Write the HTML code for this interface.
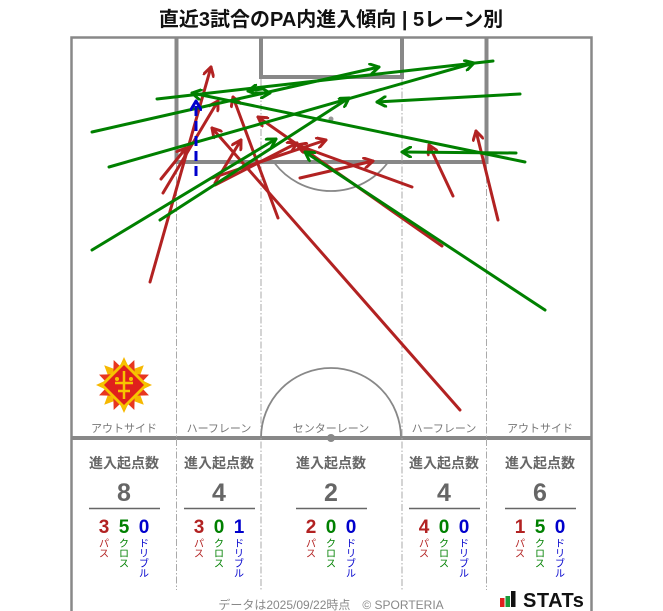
<!DOCTYPE html>
<html><head><meta charset="utf-8"><style>
html,body{margin:0;padding:0;background:#fff;}
svg{display:block;}
text{font-family:"Liberation Sans","Noto Sans CJK JP",sans-serif;}
</style></head><body>
<svg width="663" height="611" viewBox="0 0 663 611" xmlns="http://www.w3.org/2000/svg">
<defs>
<marker id="mr" viewBox="0 0 12 12" refX="10" refY="6" markerWidth="12" markerHeight="12" markerUnits="userSpaceOnUse" orient="auto"><path d="M1.5,1 L10,6 L1.5,11" fill="none" stroke="#b22222" stroke-width="3" stroke-linecap="round" stroke-linejoin="round"/></marker>
<marker id="mg" viewBox="0 0 12 12" refX="10" refY="6" markerWidth="12" markerHeight="12" markerUnits="userSpaceOnUse" orient="auto"><path d="M1.5,1 L10,6 L1.5,11" fill="none" stroke="#008000" stroke-width="3" stroke-linecap="round" stroke-linejoin="round"/></marker>
<marker id="mb" viewBox="0 0 12 12" refX="10" refY="6" markerWidth="12" markerHeight="12" markerUnits="userSpaceOnUse" orient="auto"><path d="M1.5,1 L10,6 L1.5,11" fill="none" stroke="#0000cc" stroke-width="3" stroke-linecap="round" stroke-linejoin="round"/></marker>
</defs>

<text x="331" y="26" text-anchor="middle" font-size="20" font-weight="bold" fill="#111">直近3試合のPA内進入傾向 | 5レーン別</text>

<!-- pitch -->
<g fill="none" stroke="#888">
<path d="M71.5,611 V37.5 H591.5 V611" stroke-width="2.5"/>
<line x1="71" y1="438" x2="592" y2="438" stroke-width="4"/>
<path d="M176.5,37 V162 H486.5 V37" stroke-width="4"/>
<path d="M261,37 V77 H402 V37" stroke-width="4"/>
</g>
<g stroke="#aaa" stroke-width="1" stroke-dasharray="7,2,1.5,2" fill="none">
<line x1="176.5" y1="164" x2="176.5" y2="590"/>
<line x1="261" y1="79" x2="261" y2="590"/>
<line x1="402" y1="79" x2="402" y2="590"/>
<line x1="486.5" y1="164" x2="486.5" y2="590"/>
</g>
<path d="M274.5,163 A71,71 0 0 0 387.5,163" fill="none" stroke="#888" stroke-width="1.8"/>
<circle cx="331" cy="119" r="2.5" fill="#999"/>
<path d="M261,438 A70,70 0 0 1 401,438" fill="none" stroke="#888" stroke-width="1.8"/>
<circle cx="331" cy="438" r="4" fill="#888"/>

<!-- emblem -->
<g transform="translate(124,385)">
<polygon fill="#f6b800" points="0,-28 6.1,-14.8 19.8,-19.8 14.8,-6.1 28,0 14.8,6.1 19.8,19.8 6.1,14.8 0,28 -6.1,14.8 -19.8,19.8 -14.8,6.1 -28,0 -14.8,-6.1 -19.8,-19.8 -6.1,-14.8"/>
<polygon fill="#e8361f" transform="rotate(22.5)" points="0,-27 5.8,-14 19.1,-19.1 14,-5.8 27,0 14,5.8 19.1,19.1 5.8,14 0,27 -5.8,14 -19.1,19.1 -14,5.8 -27,0 -14,-5.8 -19.1,-19.1 -5.8,-14"/>
<polygon fill="#f7c400" points="0,-24 24,0 0,24 -24,0"/>
<polygon fill="#e0201c" points="0,-20 20,0 0,20 -20,0"/>
<path d="M0,-14 V14 M-9,-2 H9 M-6,6 H6" stroke="#f7c400" stroke-width="2.5"/>
<circle cx="-7" cy="-6" r="2" fill="#f7c400"/><circle cx="7" cy="-6" r="2" fill="#f7c400"/>
</g>

<!-- lane labels -->
<g font-size="11" fill="#777" text-anchor="middle">
<text x="124" y="432">アウトサイド</text>
<text x="219" y="432">ハーフレーン</text>
<text x="331" y="432">センターレーン</text>
<text x="444" y="432">ハーフレーン</text>
<text x="540" y="432">アウトサイド</text>
</g>

<!-- arrows red -->
<g stroke="#b22222" stroke-width="3" fill="none" stroke-linecap="round" marker-end="url(#mr)">
<path d="M150,282 L211,67"/>
<path d="M161,179 L186,148"/>
<path d="M163,193 L218,101"/>
<path d="M460,410 L212,128"/>
<path d="M278,218 L233,97"/>
<path d="M215,183 L241,140"/>
<path d="M442,246 L258,117"/>
<path d="M215,185 L297,143"/>
<path d="M412,187 L297,145"/>
<path d="M212,178 L326,140"/>
<path d="M498,220 L476,131"/>
<path d="M453,196 L429,145"/>
<path d="M300,178 L373,161"/>
</g>
<!-- arrows green -->
<g stroke="#008000" stroke-width="3" fill="none" stroke-linecap="round">
<path d="M157,99 L493,61"/>
<g marker-end="url(#mg)">
<path d="M92,132 L379,67"/>
<path d="M109,167 L474,63"/>
<path d="M525,162 L192,93"/>
<path d="M520,94 L377,102"/>
<path d="M516,153 L402,152"/>
<path d="M545,310 L305,152"/>
<path d="M92,250 L276,139"/>
<path d="M160,220 L349,98"/>
<path d="M262,89 L248,91"/>
<path d="M256,93 L270,93"/>
</g>
</g>
<!-- dribble -->
<path d="M196,176 L196,101" stroke="#0000cc" stroke-width="3" fill="none" stroke-dasharray="10,5" marker-end="url(#mb)"/>

<!-- stats -->
<g text-anchor="middle">
<g font-size="14" font-weight="bold" fill="#666">
<text x="124" y="468">進入起点数</text>
<text x="219" y="468">進入起点数</text>
<text x="331" y="468">進入起点数</text>
<text x="444" y="468">進入起点数</text>
<text x="540" y="468">進入起点数</text>
</g>
<g font-size="25" font-weight="bold" fill="#666">
<text x="124" y="501">8</text>
<text x="219" y="501">4</text>
<text x="331" y="501">2</text>
<text x="444" y="501">4</text>
<text x="540" y="501">6</text>
</g>
<g stroke="#666" stroke-width="1.5">
<line x1="89" y1="508.5" x2="160" y2="508.5"/>
<line x1="184" y1="508.5" x2="255" y2="508.5"/>
<line x1="296" y1="508.5" x2="367" y2="508.5"/>
<line x1="409" y1="508.5" x2="480" y2="508.5"/>
<line x1="505" y1="508.5" x2="576" y2="508.5"/>
</g>
<g font-size="19" font-weight="bold">
<text x="104" y="533" fill="#b22222">3</text><text x="124" y="533" fill="#008000">5</text><text x="144" y="533" fill="#0000cc">0</text>
<text x="199" y="533" fill="#b22222">3</text><text x="219" y="533" fill="#008000">0</text><text x="239" y="533" fill="#0000cc">1</text>
<text x="311" y="533" fill="#b22222">2</text><text x="331" y="533" fill="#008000">0</text><text x="351" y="533" fill="#0000cc">0</text>
<text x="424" y="533" fill="#b22222">4</text><text x="444" y="533" fill="#008000">0</text><text x="464" y="533" fill="#0000cc">0</text>
<text x="520" y="533" fill="#b22222">1</text><text x="540" y="533" fill="#008000">5</text><text x="560" y="533" fill="#0000cc">0</text>
</g>
<g font-size="10">
<g fill="#b22222">
<text x="104" y="547">パ</text><text x="104" y="557">ス</text>
<text x="199" y="547">パ</text><text x="199" y="557">ス</text>
<text x="311" y="547">パ</text><text x="311" y="557">ス</text>
<text x="424" y="547">パ</text><text x="424" y="557">ス</text>
<text x="520" y="547">パ</text><text x="520" y="557">ス</text>
</g>
<g fill="#008000">
<text x="124" y="547">ク</text><text x="124" y="557">ロ</text><text x="124" y="567">ス</text>
<text x="219" y="547">ク</text><text x="219" y="557">ロ</text><text x="219" y="567">ス</text>
<text x="331" y="547">ク</text><text x="331" y="557">ロ</text><text x="331" y="567">ス</text>
<text x="444" y="547">ク</text><text x="444" y="557">ロ</text><text x="444" y="567">ス</text>
<text x="540" y="547">ク</text><text x="540" y="557">ロ</text><text x="540" y="567">ス</text>
</g>
<g fill="#0000cc">
<text x="144" y="547">ド</text><text x="144" y="557">リ</text><text x="144" y="567">ブ</text><text x="144" y="577">ル</text>
<text x="239" y="547">ド</text><text x="239" y="557">リ</text><text x="239" y="567">ブ</text><text x="239" y="577">ル</text>
<text x="351" y="547">ド</text><text x="351" y="557">リ</text><text x="351" y="567">ブ</text><text x="351" y="577">ル</text>
<text x="464" y="547">ド</text><text x="464" y="557">リ</text><text x="464" y="567">ブ</text><text x="464" y="577">ル</text>
<text x="560" y="547">ド</text><text x="560" y="557">リ</text><text x="560" y="567">ブ</text><text x="560" y="577">ル</text>
</g>
</g>
</g>

<!-- footer -->
<text x="331" y="609" text-anchor="middle" font-size="12" fill="#888">データは2025/09/22時点　© SPORTERIA</text>
<g>
<rect x="500" y="598" width="4.5" height="9" fill="#e02020"/>
<rect x="505.5" y="596" width="4.5" height="11" fill="#1a9a3a"/>
<rect x="511" y="591" width="4.5" height="16" fill="#111"/>
<text x="523" y="607" font-size="20" font-weight="bold" fill="#111" letter-spacing="0.5">STATs</text>
</g>
</svg>
</body></html>
